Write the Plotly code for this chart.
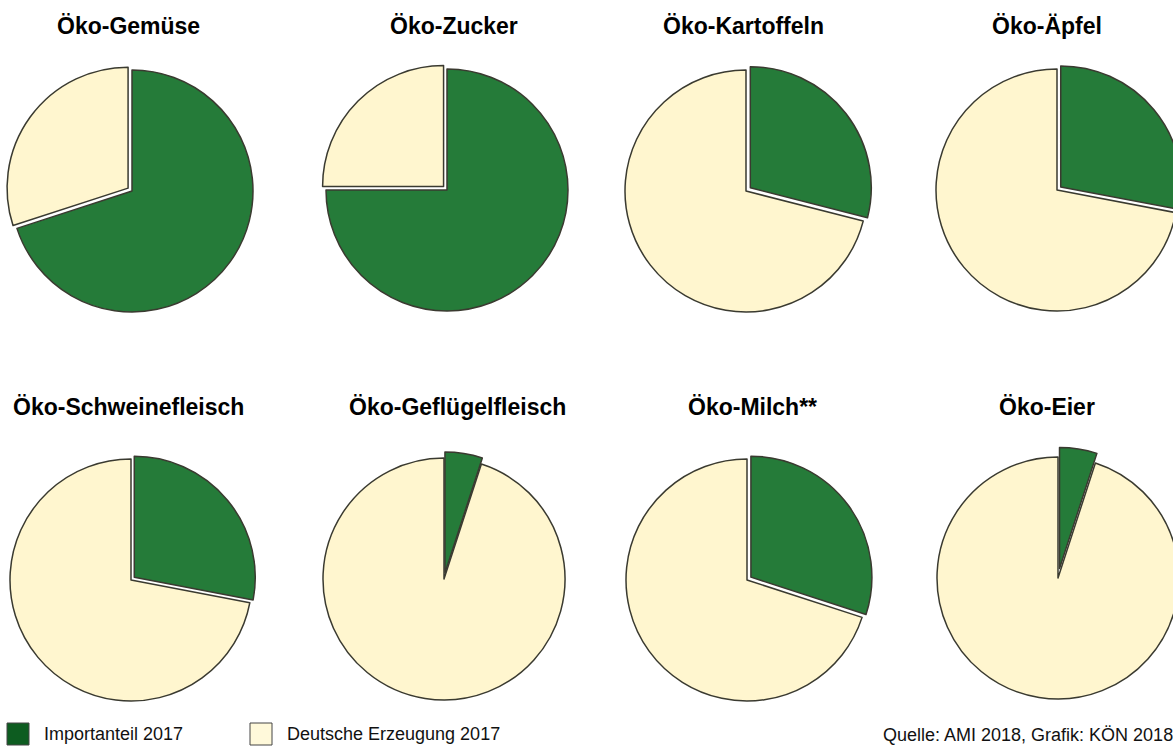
import plotly.graph_objects as go

# Import share vs. domestic production of organic products, Germany 2017 (%)
categories = ["Öko-Gemüse", "Öko-Zucker", "Öko-Kartoffeln", "Öko-Äpfel",
              "Öko-Schweinefleisch", "Öko-Geflügelfleisch", "Öko-Milch**", "Öko-Eier"]
import_share = [70, 75, 29, 28, 28, 5, 30, 5]
domestic_share = [100 - v for v in import_share]
series_names = ["Importanteil 2017", "Deutsche Erzeugung 2017"]
source_note = "Quelle: AMI 2018, Grafik: KÖN 2018"

# ---- layout / styling ----
W, H = 1200, 746
GREEN = "#257b39"
CREAM = "#fff6cf"
EDGE = "#3a3a30"
R = 121  # pie radius in px
centers = [(132, 191), (447, 190), (746, 191), (1057, 190),
           (131, 580), (444, 579), (747, 580), (1058, 578)]
title_pos = [(128, 26), (454, 26), (743, 26), (1047, 26),
             (128, 407), (457, 407), (752, 407), (1047, 407)]
pull_amount = [0.04, 0.04, 0.045, 0.04, 0.035, 0.05, 0.04, 0.08]


def px_x(x):
    return x / W


def px_y(y):
    return 1 - y / H


fig = go.Figure()
for i, name in enumerate(categories):
    cx, cy = centers[i]
    p = pull_amount[i]
    half = R * (1 + p)
    vals = [import_share[i], domestic_share[i]]
    small = 0 if vals[0] < vals[1] else 1
    pulls = [p if k == small else 0 for k in range(2)]
    fig.add_trace(go.Pie(
        labels=series_names,
        values=vals,
        sort=False,
        direction="clockwise",
        rotation=0,
        pull=pulls,
        marker=dict(colors=[GREEN, CREAM], line=dict(color=EDGE, width=1.5)),
        textinfo="none",
        hoverinfo="label+percent",
        showlegend=False,
        domain=dict(x=[px_x(cx - half), px_x(cx + half)],
                    y=[px_y(cy + half), px_y(cy - half)]),
    ))
    tx, ty = title_pos[i]
    fig.add_annotation(
        x=px_x(tx), y=px_y(ty), xref="paper", yref="paper",
        text=f"<b>{name}</b>", showarrow=False,
        xanchor="center", yanchor="middle",
        font=dict(family="Liberation Sans, Arial, sans-serif", size=23, color="#000"),
    )

# legend swatches and labels
legend_items = [(7, "#0d5c20", 42), (250, "#fff9da", 285)]
for (x0, fill, tx), label in zip(legend_items, series_names):
    fig.add_shape(type="rect", xref="paper", yref="paper",
                  x0=px_x(x0), x1=px_x(x0 + 22), y0=px_y(745), y1=px_y(723),
                  fillcolor=fill, line=dict(color="#444", width=1))
    fig.add_annotation(
        x=px_x(tx), y=px_y(734), xref="paper", yref="paper", text=label,
        showarrow=False, xanchor="left", yanchor="middle",
        font=dict(family="Liberation Sans, Arial, sans-serif", size=18, color="#111"),
    )

fig.add_annotation(
    x=px_x(881), y=px_y(735), xref="paper", yref="paper", text=source_note,
    showarrow=False, xanchor="left", yanchor="middle",
    font=dict(family="Liberation Sans, Arial, sans-serif", size=18, color="#111"),
)

fig.update_layout(
    width=W, height=H,
    margin=dict(l=0, r=0, t=0, b=0),
    paper_bgcolor="white",
    plot_bgcolor="white",
)

fig.write_html(
    "out.html",
    post_script="document.documentElement.style.overflow='hidden';document.body.style.overflow='hidden';",
)
